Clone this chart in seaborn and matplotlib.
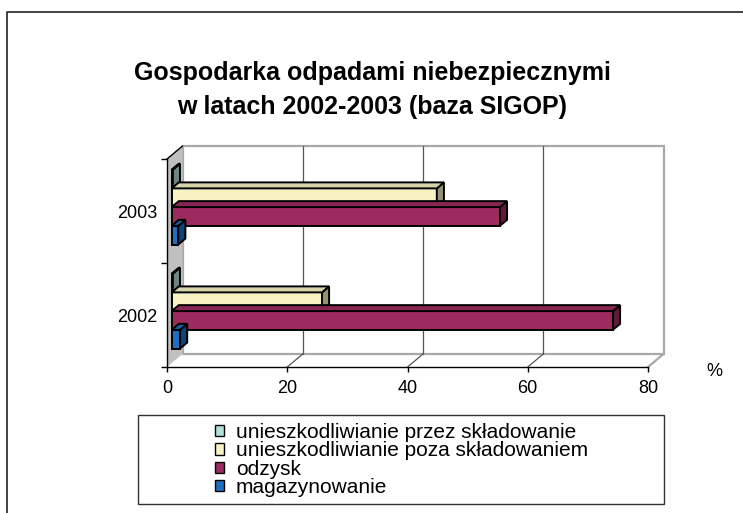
import numpy as np
import pandas as pd
import matplotlib
matplotlib.use('Agg')
import matplotlib.pyplot as plt
import matplotlib.colors as mcolors
import seaborn as sns
from matplotlib.patches import Polygon, Rectangle, Patch
from matplotlib.lines import Line2D
from matplotlib.transforms import offset_copy

# data (percent shares)
years = ['2003', '2002']
methods = ['unieszkodliwianie przez składowanie',
           'unieszkodliwianie poza składowaniem',
           'odzysk',
           'magazynowanie']
share_2003 = [0.2, 44.1, 54.6, 1.1]
share_2002 = [0.2, 25.0, 73.4, 1.4]
colors = ['#b4e0dc', '#f6f2c2', '#9c2b5e', '#1f6fc1']
x_ticks = [0, 20, 40, 60, 80]

sns.set_style('white')
plt.rcParams['font.family'] = ['Liberation Sans', 'DejaVu Sans']
plt.rcParams['text.color'] = 'black'
plt.rcParams['xtick.color'] = 'black'
plt.rcParams['ytick.color'] = 'black'

df = pd.DataFrame({
    'rok': np.repeat(years, len(methods)),
    'sposob': methods * len(years),
    'udzial': share_2003 + share_2002,
})

W, H = 743, 513
fig = plt.figure(figsize=(W / 100, H / 100), dpi=100)

# front plane of the 3d box, in pixels
L, R, T, B = 167, 648, 159, 367
ax = fig.add_axes([L / W, 1 - B / H, (R - L) / W, (B - T) / H])

sns.barplot(data=df, y='rok', x='udzial', hue='sposob', order=years,
            hue_order=methods, palette=colors, orient='h', width=0.72,
            saturation=1, errorbar=None, edgecolor='black', linewidth=1.4,
            legend=False, ax=ax)
bars = sorted([b for b in ax.patches if isinstance(b, Rectangle)], key=lambda b: b.get_y())

ax.set_xlim(0, 80)
ax.set_ylim(1.5, -0.5)
ax.set_xlabel('')
ax.set_ylabel('')
ax.patch.set_visible(False)
ax.grid(False)
for s in ['top', 'right']:
    ax.spines[s].set_visible(False)
for s in ['left', 'bottom']:
    ax.spines[s].set_color('black')
    ax.spines[s].set_linewidth(1)

ax.set_xticks(x_ticks)
ax.set_xticklabels([str(v) for v in x_ticks], fontsize=13)
ax.set_yticks([-0.5, 0.5, 1.5])
ax.set_yticklabels([])
ax.set_yticks([0, 1], minor=True)
ax.set_yticklabels(years, minor=True, fontsize=13)
ax.tick_params(axis='x', bottom=True, length=3.6, width=1, color='black', pad=6)
ax.tick_params(axis='y', which='major', left=True, length=4.3, width=1, color='black')
ax.tick_params(axis='y', which='minor', left=True, length=0, pad=7.2)

# 3d depth (pixels right / up)
DEPTH = np.array([15.5, 13.0])
BAR_FRONT = 0.3
BAR_DEPTH = 0.46

to_px = ax.transData.transform
to_data = ax.transData.inverted().transform


def shifted(pt, k):
    return to_data(to_px(np.asarray(pt, float)) + k * DEPTH)


def darker(c, f):
    r, g, b, a = mcolors.to_rgba(c)
    return (r * f, g * f, b * f, a)


y0, y1 = -0.5, 1.5
# back wall
wall = [shifted((0, y0), 1), shifted((80, y0), 1), shifted((80, y1), 1), shifted((0, y1), 1)]
ax.add_patch(Polygon(wall, closed=True, facecolor='white', edgecolor='#a8a8a8',
                     lw=1.6, zorder=0.2, clip_on=False))
for xv in x_ticks[1:-1]:
    p, q = shifted((xv, y0), 1), shifted((xv, y1), 1)
    ax.add_line(Line2D([p[0], q[0]], [p[1], q[1]], color='#555555', lw=0.9,
                       zorder=0.3, clip_on=False))
    f = shifted((xv, y1), 0)
    ax.add_line(Line2D([f[0], q[0]], [f[1], q[1]], color='#555555', lw=0.9,
                       zorder=0.3, clip_on=False))
p, q = shifted((80, y1), 0), shifted((80, y1), 1)
ax.add_line(Line2D([p[0], q[0]], [p[1], q[1]], color='#a8a8a8', lw=1.6,
                   zorder=0.3, clip_on=False))

# left wall
side_wall = [shifted((0, y0), 0), shifted((0, y1), 0), shifted((0, y1), 1), shifted((0, y0), 1)]
ax.add_patch(Polygon(side_wall, closed=True, facecolor='#c0c0c0', edgecolor='none',
                     zorder=0.4, clip_on=False))
p, q = shifted((0, y0), 0), shifted((0, y0), 1)
ax.add_line(Line2D([p[0], q[0]], [p[1], q[1]], color='black', lw=1,
                   zorder=0.5, clip_on=False))

# bars: move to their depth and add side / top faces
for i, bar in enumerate(bars):
    z = 3 + i * 0.1
    base = bar.get_facecolor()
    bar.set_transform(offset_copy(ax.transData, fig=fig, x=BAR_FRONT * DEPTH[0],
                                  y=BAR_FRONT * DEPTH[1], units='dots'))
    bar.set_zorder(z)
    bar.set_clip_on(False)
    bx0 = bar.get_x()
    bx1 = bx0 + bar.get_width()
    ya = bar.get_y()
    yb = ya + bar.get_height()
    f, d = BAR_FRONT, BAR_FRONT + BAR_DEPTH
    side = [shifted((bx1, yb), f), shifted((bx1, ya), f), shifted((bx1, ya), d), shifted((bx1, yb), d)]
    top = [shifted((bx0, ya), f), shifted((bx1, ya), f), shifted((bx1, ya), d), shifted((bx0, ya), d)]
    ax.add_patch(Polygon(side, closed=True, facecolor=darker(base, 0.6), edgecolor='black',
                         lw=1.4, zorder=z, clip_on=False))
    ax.add_patch(Polygon(top, closed=True, facecolor=darker(base, 0.87), edgecolor='black',
                         lw=1.4, zorder=z, clip_on=False))

# title and unit
fig.text(372 / W, 1 - 90 / H, 'Gospodarka odpadami niebezpiecznymi\nw latach 2002-2003 (baza SIGOP)',
         ha='center', va='center', fontsize=18, fontweight='bold', linespacing=1.5)
fig.text(714 / W, 1 - 372 / H, '%', ha='center', va='center', fontsize=13)

# legend
handles = [Patch(facecolor=c, edgecolor='black', lw=1) for c in colors]
fig.legend(handles, methods, loc='upper left', bbox_to_anchor=(215 / W, 1 - 423 / H),
           frameon=False, borderpad=0, borderaxespad=0, fontsize=15, labelspacing=-0.03,
           handlelength=0.45, handleheight=0.45, handletextpad=0.55)
fig.add_artist(Rectangle((138 / W, 1 - 504 / H), (664 - 138) / W, (504 - 415) / H,
                         transform=fig.transFigure, fill=False, edgecolor='#333333', lw=1))

# outer frame (cut at right and bottom)
fig.add_artist(Line2D([7 / W, 7 / W, 1], [0, 1 - 12 / H, 1 - 12 / H],
                      transform=fig.transFigure, color='#333333', lw=1.3))

fig.savefig('out.png', dpi=100)
